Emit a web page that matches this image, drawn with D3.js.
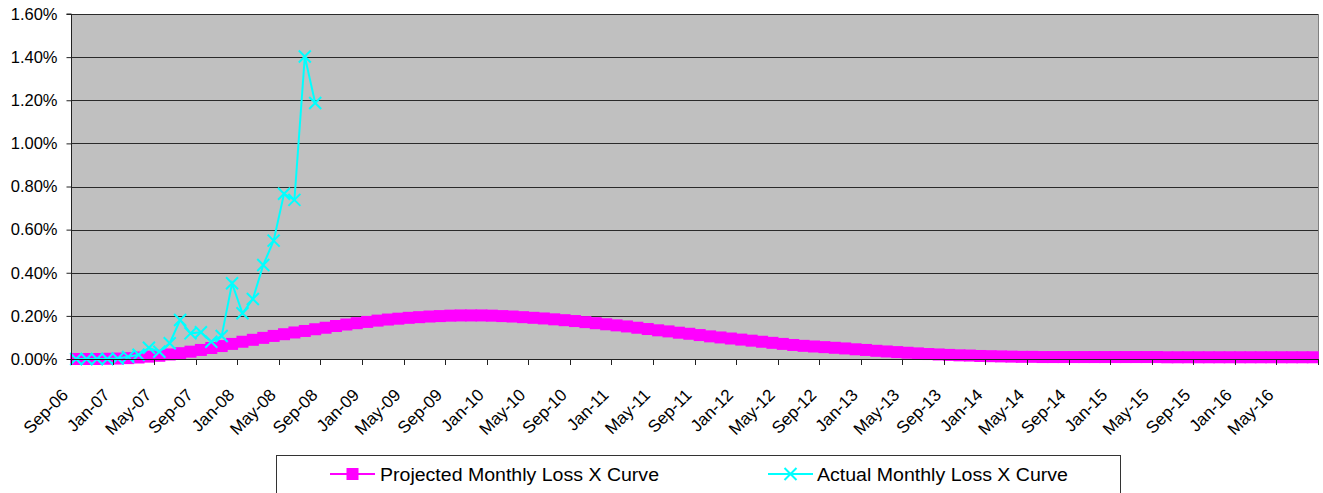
<!DOCTYPE html>
<html>
<head>
<meta charset="utf-8">
<script src="https://cdn.jsdelivr.net/npm/d3@7"></script>
<style>
  body { margin: 0; background: #fff; }
  svg { display: block; font-family: "Liberation Sans", Arial, sans-serif; }
</style>
</head>
<body>
<div class="container"></div>
<script>
// month categories Sep-06 .. Aug-16
const months = d3.timeMonth.range(new Date(2006, 8, 1), new Date(2016, 8, 1))

const tickLabels = ["Sep-06", "Jan-07", "May-07", "Sep-07", "Jan-08", "May-08", "Sep-08", "Jan-09",
  "May-09", "Sep-09", "Jan-10", "May-10", "Sep-10", "Jan-11", "May-11", "Sep-11", "Jan-12",
  "May-12", "Sep-12", "Jan-13", "May-13", "Sep-13", "Jan-14", "May-14", "Sep-14", "Jan-15",
  "May-15", "Sep-15", "Jan-16", "May-16"]

const yTicks = [0, 0.2, 0.4, 0.6, 0.8, 1.0, 1.2, 1.4, 1.6]

// values in percent
const projected = [
  0.000, 0.000, 0.000, 0.001, 0.002, 0.004, 0.007, 0.011, 0.015, 0.021,
  0.027, 0.034, 0.042, 0.051, 0.060, 0.070, 0.080, 0.089, 0.098, 0.107,
  0.115, 0.123, 0.130, 0.138, 0.145, 0.153, 0.160, 0.166, 0.172, 0.178,
  0.183, 0.187, 0.191, 0.194, 0.197, 0.199, 0.201, 0.202, 0.202, 0.202,
  0.201, 0.199, 0.197, 0.194, 0.191, 0.188, 0.184, 0.180, 0.176, 0.171,
  0.166, 0.161, 0.156, 0.151, 0.145, 0.139, 0.133, 0.128, 0.122, 0.117,
  0.111, 0.105, 0.100, 0.095, 0.090, 0.085, 0.080, 0.075, 0.070, 0.065,
  0.061, 0.058, 0.055, 0.052, 0.049, 0.045, 0.042, 0.038, 0.035, 0.032,
  0.029, 0.026, 0.023, 0.021, 0.019, 0.017, 0.016, 0.014, 0.013, 0.012,
  0.011, 0.010, 0.010, 0.009, 0.009, 0.009, 0.009, 0.009, 0.009, 0.009,
  0.009, 0.009, 0.009, 0.009, 0.009, 0.008, 0.008, 0.008, 0.008, 0.008,
  0.008, 0.008, 0.008, 0.008, 0.008, 0.008, 0.008, 0.008, 0.008, 0.008
]

const actual = [
  0.000, 0.000, 0.000, 0.000, 0.002, 0.010, 0.020, 0.052, 0.034, 0.073,
  0.181, 0.119, 0.124, 0.080, 0.107, 0.351, 0.212, 0.278, 0.436, 0.549,
  0.766, 0.738, 1.403, 1.187
]

const seriesNames = ["Projected Monthly Loss X Curve", "Actual Monthly Loss X Curve"]

const W = 1323, H = 493
const plotL = 71, plotR = 1318, plotT = 14, plotB = 359

const svg = d3.select(".container").append("svg")
svg.attr("width", W).attr("height", H)

const x = d3.scaleBand().domain(months).range([plotL, plotR]).padding(0)
const y = d3.scaleLinear().domain([0, 1.6]).range([plotB, plotT])
const cx = (d, i) => x(months[i]) + x.bandwidth() / 2

// plot area
svg.append("rect")
  .attr("x", plotL).attr("y", plotT)
  .attr("width", plotR - plotL).attr("height", plotB - plotT)
  .attr("fill", "#c0c0c0")

svg.append("line")
  .attr("x1", plotR + 0.5).attr("x2", plotR + 0.5)
  .attr("y1", plotT).attr("y2", plotB)
  .attr("stroke", "#808080")

// gridlines
svg.selectAll(".grid").data(yTicks.slice(1)).enter()
  .append("line")
  .attr("x1", plotL).attr("x2", plotR)
  .attr("y1", d => Math.round(y(d)) + 0.5)
  .attr("y2", d => Math.round(y(d)) + 0.5)
  .attr("stroke", "#2a2a2a")

// projected series
const line = d3.line().x(cx).y(d => y(d))
svg.append("path")
  .datum(projected)
  .attr("d", line)
  .attr("fill", "none")
  .attr("stroke", "#ff00ff")
  .attr("stroke-width", 2)

const sq = 12
svg.selectAll(".sq").data(projected).enter()
  .append("rect")
  .attr("x", (d, i) => cx(d, i) - sq / 2)
  .attr("y", d => y(d) - sq / 2)
  .attr("width", sq).attr("height", sq)
  .attr("fill", "#ff00ff")

// actual series
svg.append("path")
  .datum(actual)
  .attr("d", line)
  .attr("fill", "none")
  .attr("stroke", "#00ffff")
  .attr("stroke-width", 2)

const xm = 6
function crossPath(px, py) {
  return `M${px - xm},${py - xm}L${px + xm},${py + xm}M${px - xm},${py + xm}L${px + xm},${py - xm}`
}
svg.selectAll(".xm").data(actual).enter()
  .append("path")
  .attr("d", (d, i) => crossPath(cx(d, i), y(d)))
  .attr("stroke", "#00ffff")
  .attr("stroke-width", 2)
  .attr("fill", "none")

// y axis
const yAxis = svg.append("g")
  .attr("transform", `translate(${plotL + 0.5},0)`)
  .call(d3.axisLeft(y).tickValues(yTicks).tickSize(5).tickPadding(9)
    .tickFormat(d => d.toFixed(2) + "%"))
yAxis.select(".domain").attr("stroke", "#222").attr("d", `M-5,${plotT}H0V${plotB}`)
yAxis.selectAll(".tick line").attr("stroke", "#222")
yAxis.selectAll("text").attr("font-size", 16.5).attr("fill", "#000")
  .attr("font-family", "Liberation Sans, Arial, sans-serif")

// x axis: ticks at category boundaries, every 4 months
const tickMonths = months.filter((m, i) => i % 4 === 0)
const xg = svg.append("g")
xg.append("line")
  .attr("x1", plotL).attr("x2", plotR + 1)
  .attr("y1", plotB + 0.5).attr("y2", plotB + 0.5)
  .attr("stroke", "#222")
xg.selectAll(".xt").data(tickMonths.concat([null])).enter()
  .append("line")
  .attr("x1", d => Math.round(d ? x(d) : plotR) + 0.5)
  .attr("x2", d => Math.round(d ? x(d) : plotR) + 0.5)
  .attr("y1", plotB).attr("y2", plotB + 6)
  .attr("stroke", "#222")

xg.selectAll(".xl").data(tickMonths).enter()
  .append("text")
  .attr("transform", d => `translate(${x(d) + x.bandwidth() / 2 - 7},${plotB + 37}) rotate(-45)`)
  .attr("text-anchor", "end")
  .attr("font-size", 17)
  .text((d, i) => tickLabels[i])

// legend
const lg = svg.append("g")
lg.append("rect")
  .attr("x", 276.5).attr("y", 455.5)
  .attr("width", 844).attr("height", 60)
  .attr("fill", "#fff").attr("stroke", "#333")

const legendItems = [
  {x0: 330, tx: 380, color: "#ff00ff", mark: "sq", w: 279},
  {x0: 768, tx: 817, color: "#00ffff", mark: "x", w: 251}
]
const ly = 474
legendItems.forEach((it, k) => {
  lg.append("line")
    .attr("x1", it.x0).attr("x2", it.x0 + 45)
    .attr("y1", ly).attr("y2", ly)
    .attr("stroke", it.color).attr("stroke-width", 2)
  if (it.mark === "sq") {
    lg.append("rect")
      .attr("x", it.x0 + 22.5 - 6).attr("y", ly - 6)
      .attr("width", 12).attr("height", 12)
      .attr("fill", it.color)
  } else {
    lg.append("path")
      .attr("d", crossPath(it.x0 + 22.5, ly))
      .attr("stroke", it.color).attr("stroke-width", 2)
  }
  lg.append("text")
    .attr("x", it.tx).attr("y", ly + 6.5)
    .attr("font-size", 17.5)
    .attr("textLength", it.w)
    .attr("lengthAdjust", "spacingAndGlyphs")
    .text(seriesNames[k])
})
</script>
</body>
</html>
